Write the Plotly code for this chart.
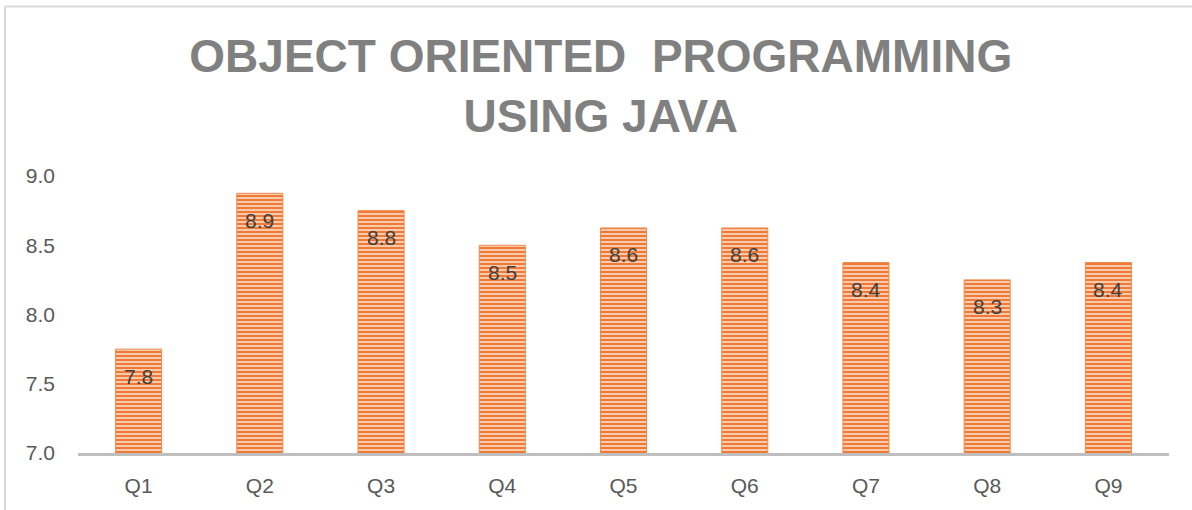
import plotly.graph_objects as go

categories = ["Q1", "Q2", "Q3", "Q4", "Q5", "Q6", "Q7", "Q8", "Q9"]
scores = [7.75, 8.875, 8.75, 8.5, 8.625, 8.625, 8.375, 8.25, 8.375]
score_labels = ["7.8", "8.9", "8.8", "8.5", "8.6", "8.6", "8.4", "8.3", "8.4"]
y_ticks = [7.0, 7.5, 8.0, 8.5, 9.0]
y_tick_labels = ["7.0", "7.5", "8.0", "8.5", "9.0"]

FONT = "Liberation Sans, Arial, sans-serif"

fig = go.Figure()
fig.add_trace(go.Bar(
    x=categories,
    y=scores,
    marker=dict(
        color="#ED7D31",
        line=dict(color="#F08A4B", width=1),
        pattern=dict(shape="-", bgcolor="#EE7A36", fgcolor="#FAD3BB",
                     size=4, solidity=0.45, fillmode="replace"),
    ),
    hoverinfo="x+y",
))

for c, v, t in zip(categories, scores, score_labels):
    fig.add_annotation(x=c, y=v, text=t, showarrow=False, yanchor="middle",
                       yshift=-27, font=dict(family=FONT, size=21, color="#404040"))

W, H = 1192, 510
L, R, T, B = 78, 23, 176, 57
pw, ph = W - L - R, H - T - B

# chart-area border (top and left edges)
fig.add_shape(type="line", xref="paper", yref="paper",
              x0=(5 - L) / pw, x1=(W - L) / pw, y0=(H - B - 6.5) / ph, y1=(H - B - 6.5) / ph,
              line=dict(color="#D9D9D9", width=2))
fig.add_shape(type="line", xref="paper", yref="paper",
              x0=(5 - L) / pw, x1=(5 - L) / pw, y0=(H - B - 6.5) / ph, y1=-B / ph,
              line=dict(color="#D9D9D9", width=2))

fig.update_layout(
    width=W, height=H,
    margin=dict(l=L, r=R, t=T, b=B),
    paper_bgcolor="white", plot_bgcolor="white",
    bargap=0.62,
    showlegend=False,
    title=dict(
        text="OBJECT ORIENTED  PROGRAMMING<br>USING JAVA",
        x=0.504, xanchor="center", xref="container",
        y=0.858, yanchor="top", yref="container",
        font=dict(family=FONT, size=46, color="#808080", weight="bold"),
    ),
    xaxis=dict(
        showline=True, linecolor="#BFBFBF", linewidth=3,
        showgrid=False, ticks="", ticklabelstandoff=12,
        tickfont=dict(family=FONT, size=21, color="#595959"),
    ),
    yaxis=dict(
        range=[7.0, 9.0], tickvals=y_ticks, ticktext=y_tick_labels,
        showline=False, showgrid=False, zeroline=False, ticks="",
        ticklabelstandoff=22,
        tickfont=dict(family=FONT, size=21, color="#595959"),
    ),
)

fig.write_html(
    "out.html",
    config={"displayModeBar": False},
    post_script="document.body.style.margin='0';document.body.style.padding='0';",
)
